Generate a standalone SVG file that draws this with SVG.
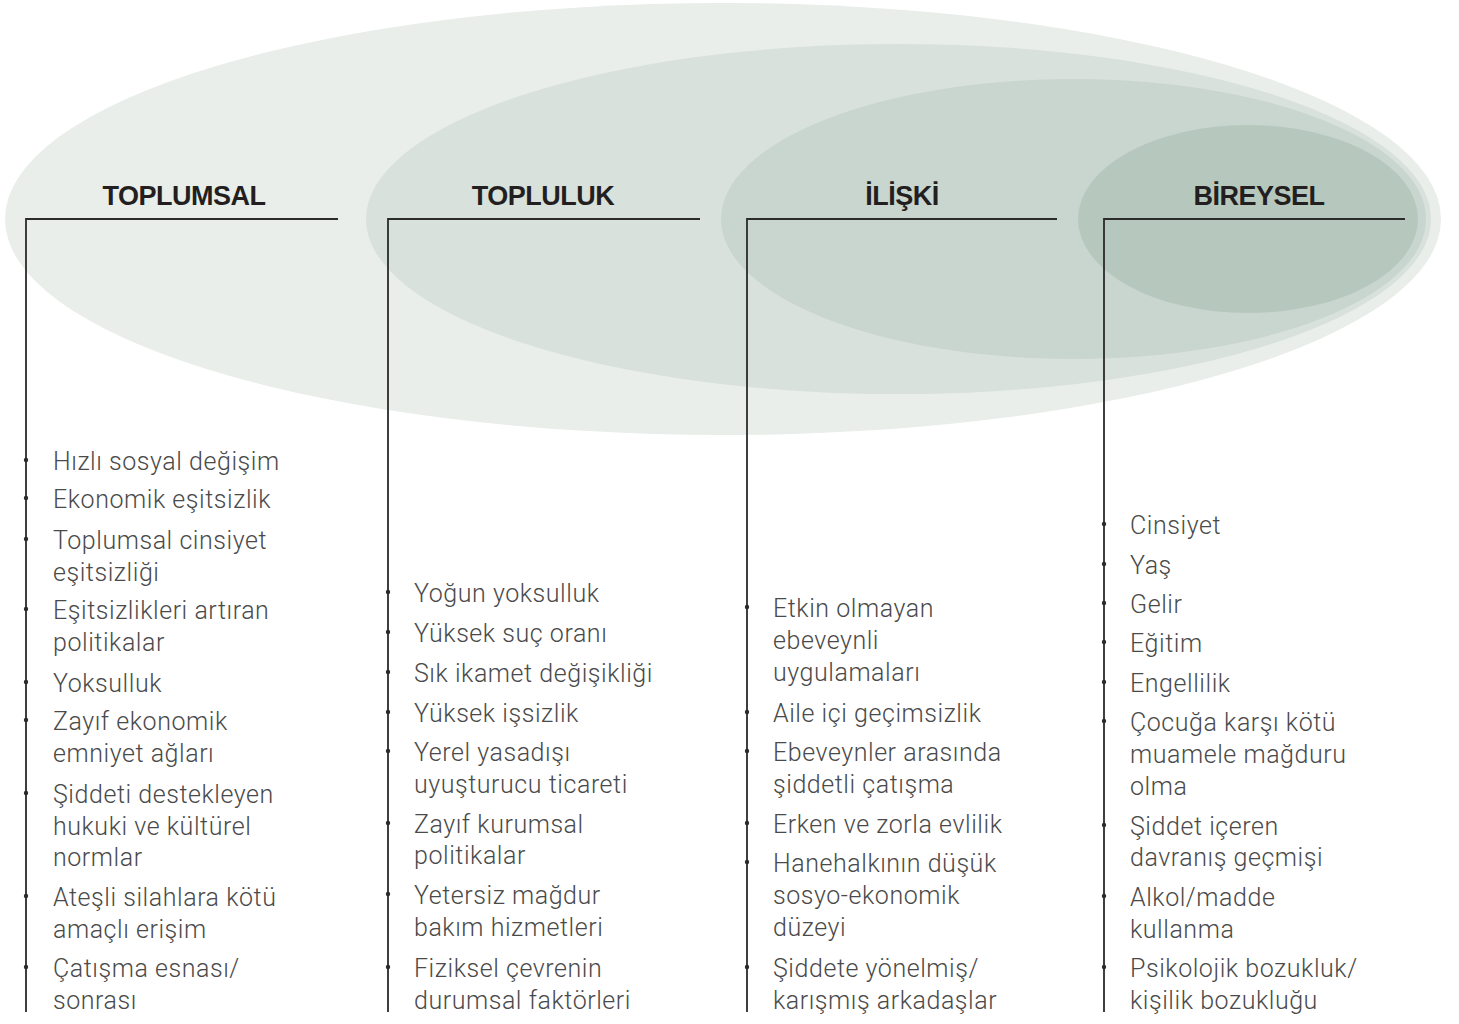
<svg xmlns="http://www.w3.org/2000/svg" width="1459" height="1024" viewBox="0 0 1459 1024">
<style>
.hdr{font-family:"Liberation Sans",Arial,sans-serif;font-weight:bold;font-size:27px;letter-spacing:-0.5px;fill:#231f20;text-anchor:middle}
.item{font-family:Roboto,"Liberation Sans",sans-serif;font-weight:300;font-size:25px;fill:#4a4a4a;letter-spacing:0.55px}
.ln{stroke:#2b2b2b;stroke-width:1.8;fill:none}
.dot{fill:#2b2b2b}
</style>
<rect width="1459" height="1024" fill="#ffffff"/>
<g id="ellipses">
<ellipse cx="723" cy="219" rx="718" ry="216" fill="#e9eeea"/>
<ellipse cx="898.5" cy="219" rx="532.5" ry="175" fill="#d8e1dc"/>
<ellipse cx="1073.5" cy="219" rx="352.5" ry="140" fill="#c9d5cf"/>
<ellipse cx="1248" cy="219" rx="170" ry="94" fill="#b6c8bd"/>
</g>
<g id="connectors">
<path class="ln" d="M26,1012 V219 H338"/>
<path class="ln" d="M388,1012 V219 H700"/>
<path class="ln" d="M747,1012 V219 H1057"/>
<path class="ln" d="M1104,1012 V219 H1405"/>
</g>
<g id="toplumsal">
<text class="hdr" x="184" y="205">TOPLUMSAL</text>
<g class="dot">
<circle cx="26" cy="460" r="2.2"/><circle cx="26" cy="498" r="2.2"/><circle cx="26" cy="539" r="2.2"/><circle cx="26" cy="609" r="2.2"/><circle cx="26" cy="682" r="2.2"/><circle cx="26" cy="720" r="2.2"/><circle cx="26" cy="793" r="2.2"/><circle cx="26" cy="896" r="2.2"/><circle cx="26" cy="967" r="2.2"/>
</g>
<text class="item" x="53" y="470">Hızlı sosyal değişim</text>
<text class="item" x="53" y="508">Ekonomik eşitsizlik</text>
<text class="item" x="53" y="549">Toplumsal cinsiyet</text>
<text class="item" x="53" y="581">eşitsizliği</text>
<text class="item" x="53" y="619">Eşitsizlikleri artıran</text>
<text class="item" x="53" y="651">politikalar</text>
<text class="item" x="53" y="692">Yoksulluk</text>
<text class="item" x="53" y="730">Zayıf ekonomik</text>
<text class="item" x="53" y="762">emniyet ağları</text>
<text class="item" x="53" y="803">Şiddeti destekleyen</text>
<text class="item" x="53" y="835">hukuki ve kültürel</text>
<text class="item" x="53" y="866">normlar</text>
<text class="item" x="53" y="906">Ateşli silahlara kötü</text>
<text class="item" x="53" y="938">amaçlı erişim</text>
<text class="item" x="53" y="977">Çatışma esnası/</text>
<text class="item" x="53" y="1009">sonrası</text>
</g>
<g id="topluluk">
<text class="hdr" x="543" y="205">TOPLULUK</text>
<g class="dot">
<circle cx="388" cy="592" r="2.2"/><circle cx="388" cy="632" r="2.2"/><circle cx="388" cy="672" r="2.2"/><circle cx="388" cy="712" r="2.2"/><circle cx="388" cy="751" r="2.2"/><circle cx="388" cy="823" r="2.2"/><circle cx="388" cy="894" r="2.2"/><circle cx="388" cy="967" r="2.2"/>
</g>
<text class="item" x="414" y="602">Yoğun yoksulluk</text>
<text class="item" x="414" y="642">Yüksek suç oranı</text>
<text class="item" x="414" y="682">Sık ikamet değişikliği</text>
<text class="item" x="414" y="722">Yüksek işsizlik</text>
<text class="item" x="414" y="761">Yerel yasadışı</text>
<text class="item" x="414" y="793">uyuşturucu ticareti</text>
<text class="item" x="414" y="833">Zayıf kurumsal</text>
<text class="item" x="414" y="864">politikalar</text>
<text class="item" x="414" y="904">Yetersiz mağdur</text>
<text class="item" x="414" y="936">bakım hizmetleri</text>
<text class="item" x="414" y="977">Fiziksel çevrenin</text>
<text class="item" x="414" y="1009">durumsal faktörleri</text>
</g>
<g id="iliski">
<text class="hdr" x="902" y="205">İLİŞKİ</text>
<g class="dot">
<circle cx="747" cy="607" r="2.2"/><circle cx="747" cy="712" r="2.2"/><circle cx="747" cy="751" r="2.2"/><circle cx="747" cy="823" r="2.2"/><circle cx="747" cy="862" r="2.2"/><circle cx="747" cy="967" r="2.2"/>
</g>
<text class="item" x="773" y="617">Etkin olmayan</text>
<text class="item" x="773" y="649">ebeveynli</text>
<text class="item" x="773" y="681">uygulamaları</text>
<text class="item" x="773" y="722">Aile içi geçimsizlik</text>
<text class="item" x="773" y="761">Ebeveynler arasında</text>
<text class="item" x="773" y="793">şiddetli çatışma</text>
<text class="item" x="773" y="833">Erken ve zorla evlilik</text>
<text class="item" x="773" y="872">Hanehalkının düşük</text>
<text class="item" x="773" y="904">sosyo-ekonomik</text>
<text class="item" x="773" y="936">düzeyi</text>
<text class="item" x="773" y="977">Şiddete yönelmiş/</text>
<text class="item" x="773" y="1009">karışmış arkadaşlar</text>
</g>
<g id="bireysel">
<text class="hdr" x="1259" y="205">BİREYSEL</text>
<g class="dot">
<circle cx="1104" cy="524" r="2.2"/><circle cx="1104" cy="564" r="2.2"/><circle cx="1104" cy="603" r="2.2"/><circle cx="1104" cy="642" r="2.2"/><circle cx="1104" cy="682" r="2.2"/><circle cx="1104" cy="721" r="2.2"/><circle cx="1104" cy="825" r="2.2"/><circle cx="1104" cy="896" r="2.2"/><circle cx="1104" cy="967" r="2.2"/>
</g>
<text class="item" x="1130" y="534">Cinsiyet</text>
<text class="item" x="1130" y="574">Yaş</text>
<text class="item" x="1130" y="613">Gelir</text>
<text class="item" x="1130" y="652">Eğitim</text>
<text class="item" x="1130" y="692">Engellilik</text>
<text class="item" x="1130" y="731">Çocuğa karşı kötü</text>
<text class="item" x="1130" y="763">muamele mağduru</text>
<text class="item" x="1130" y="795">olma</text>
<text class="item" x="1130" y="835">Şiddet içeren</text>
<text class="item" x="1130" y="866">davranış geçmişi</text>
<text class="item" x="1130" y="906">Alkol/madde</text>
<text class="item" x="1130" y="938">kullanma</text>
<text class="item" x="1130" y="977">Psikolojik bozukluk/</text>
<text class="item" x="1130" y="1009">kişilik bozukluğu</text>
</g>
</svg>
